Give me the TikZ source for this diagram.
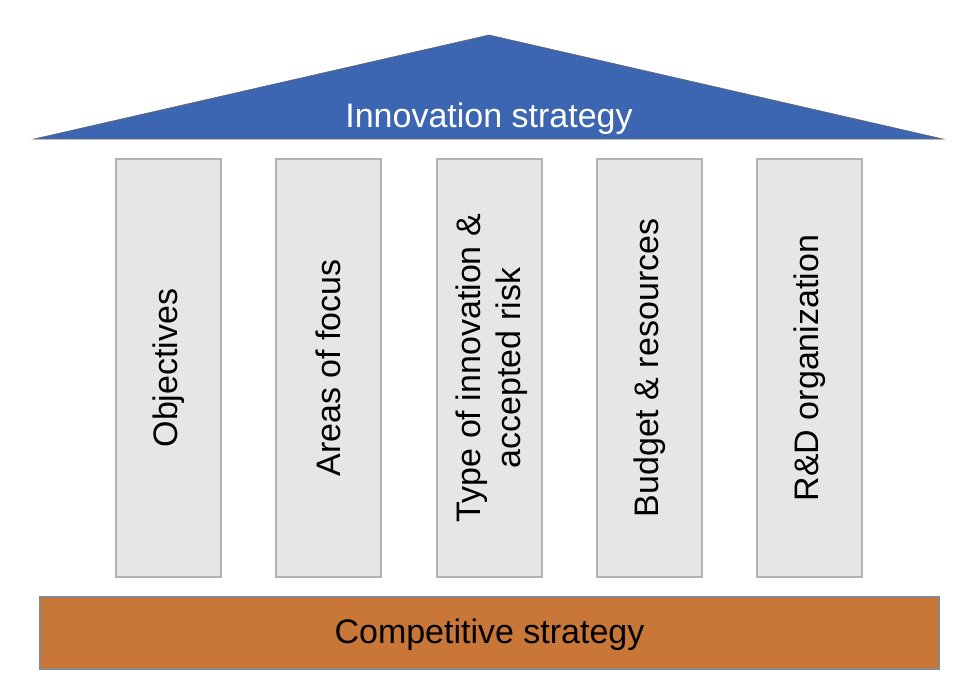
\documentclass[tikz,border=0pt]{standalone}
\usepackage{fontspec}
\setmainfont{Liberation Sans}
\definecolor{roofblue}{HTML}{3C66B1}
\definecolor{pillarfill}{HTML}{E6E7E5}
\definecolor{pillarline}{HTML}{B2B2B2}
\definecolor{basefill}{HTML}{C87738}
\definecolor{baseline}{HTML}{888888}
\begin{document}
\begin{tikzpicture}[x=1pt,y=-1pt,
  pillar/.style={draw=pillarline,line width=1.2pt,fill=pillarfill,minimum width=105pt,minimum height=418pt,inner sep=0pt},
  pillartext/.style={rotate=90,font=\fontsize{34}{40}\selectfont,align=center},
  bigtext/.style={font=\fontsize{34}{40}\selectfont}]
\useasboundingbox (0,0) rectangle (966,680);
\fill[white] (0,0) rectangle (966,680);
% roof
\draw[fill=roofblue,draw=gray!80!black,line width=0.6pt] (34,139) -- (489,35) -- (943,139) -- cycle;
\node[bigtext,text=white,anchor=base] (roof) at (489,127) {Innovation strategy};
% pillars
\node[pillar] (p1) at (168.5,368) {};
\node[pillar] (p2) at (328.5,368) {};
\node[pillar] (p3) at (489.5,368) {};
\node[pillar] (p4) at (649.5,368) {};
\node[pillar] (p5) at (809.5,368) {};
\node[pillartext] (t1) at (p1.center) {Objectives};
\node[pillartext] (t2) at (p2.center) {Areas of focus};
\node[pillartext] (t3) at ([xshift=2pt]p3.center) {Type of innovation \&\\accepted risk};
\node[pillartext] (t4) at (p4.center) {Budget \& resources};
\node[pillartext] (t5) at (p5.center) {R\&D organization};
% base
\node[draw=baseline,line width=1.2pt,fill=basefill,minimum width=899pt,minimum height=72pt,inner sep=0pt] (base) at (489.5,633) {};
\node[bigtext] (bt) at ([yshift=-2pt]base.center) {Competitive strategy};
\end{tikzpicture}
\end{document}
